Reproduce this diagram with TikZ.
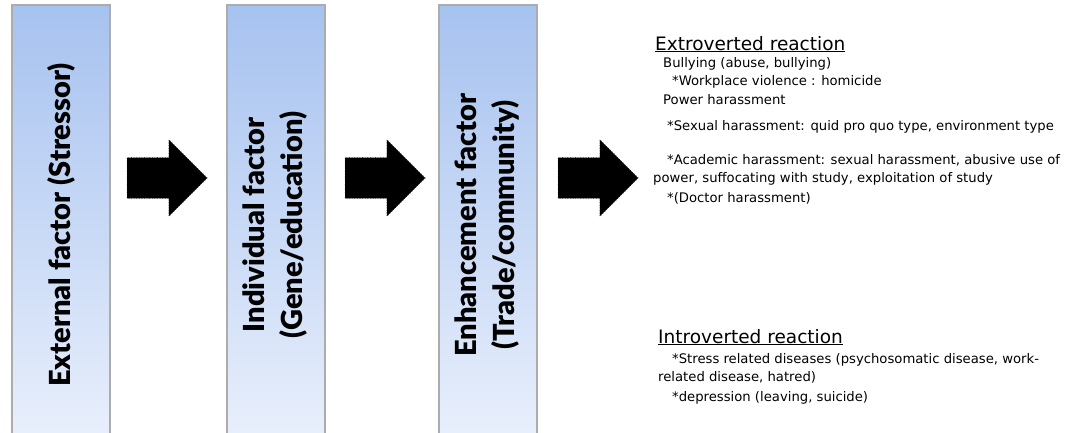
\documentclass[tikz,border=0pt]{standalone}
\usepackage{fontspec}
\setmainfont{DejaVu Sans}
\newfontfamily\boxfont{Lato}[BoldFont={Lato Black}]
\usetikzlibrary{shapes.arrows}

\definecolor{boxtop}{HTML}{A6C2EF}
\definecolor{boxbot}{HTML}{EAF0FC}

\tikzset{
  factor/.style={rectangle, draw=gray!65, line width=1.5pt, top color=boxtop, bottom color=boxbot,
    minimum width=98pt, minimum height=440pt,
    font=\boxfont\bfseries\fontsize{29}{38}\selectfont, align=center},
  flow/.style={single arrow, fill=black, draw=black, dotted, line width=0.6pt, inner sep=20pt,
    single arrow head extend=18pt, minimum height=80pt},
  head/.style={anchor=base west, inner sep=0pt, font=\fontsize{18.5}{20}\selectfont},
  item/.style={anchor=base west, inner sep=0pt, font=\fontsize{13.2}{15}\selectfont}
}

\begin{document}
\begin{tikzpicture}[x=1pt, y=-1pt]
  \useasboundingbox (0,0) rectangle (1066,432);
  \fill[white] (0,0) rectangle (1066,432);

  \node[factor] (f1) at (61,225) {\rotatebox{90}{External factor (Stressor)}};
  \node[factor] (f2) at (276,225) {\rotatebox{90}{\begin{tabular}{@{}c@{}}Individual factor\\(Gene/education)\end{tabular}}};
  \node[factor] (f3) at (488,225) {\rotatebox{90}{\begin{tabular}{@{}c@{}}Enhancement factor\\(Trade/community)\end{tabular}}};

  \node[flow] (a1) at (157,178) {};
  \node[flow] (a2) at (375,178) {};
  \node[flow] (a3) at (588,178) {};

  % extroverted
  \node[head] (ext) at (655,50) {\underline{Extroverted reaction}};
  \node[item] (e1) at (663,67) {Bullying (abuse, bullying)};
  \node[item] (e2) at (672,85) {*Workplace violence : homicide};
  \node[item] (e3) at (663,104) {Power harassment};
  \node[item] (e4) at (667,130) {*Sexual harassment: quid pro quo type, environment type};
  \node[item] (e5) at (667,164) {*Academic harassment: sexual harassment, abusive use of};
  \node[item] (e6) at (653,182) {power, suffocating with study, exploitation of study};
  \node[item] (e7) at (667,202) {*(Doctor harassment)};

  % introverted
  \node[head] (int) at (658,343) {\underline{Introverted reaction}};
  \node[item] (i1) at (672,363) {*Stress related diseases (psychosomatic disease, work-};
  \node[item] (i2) at (658,381) {related disease, hatred)};
  \node[item] (i3) at (672,401) {*depression (leaving, suicide)};
\end{tikzpicture}
\end{document}
